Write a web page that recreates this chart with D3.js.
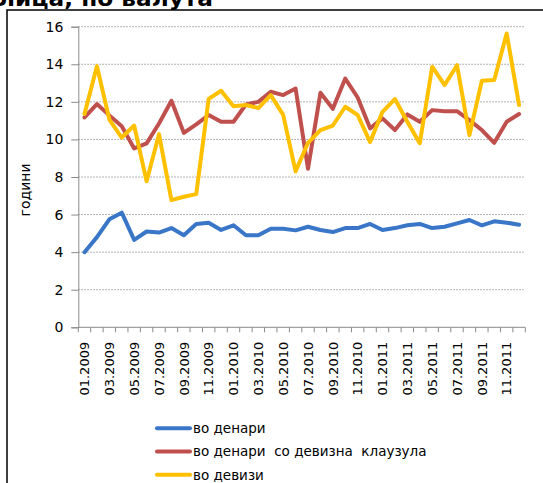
<!DOCTYPE html>
<html>
<head>
<meta charset="utf-8">
<style>
body { margin: 0; background: #fff; }
text { font-family: "DejaVu Sans", sans-serif; fill: #000; }
</style>
</head>
<body>
<div id="chart"></div>
<script src="https://d3js.org/d3.v7.min.js"></script>
<script>
// months 01.2009 .. 12.2011
var months = [];
for (var yr = 2009; yr <= 2011; yr++) {
    for (var m = 1; m <= 12; m++) months.push((m < 10 ? "0" : "") + m + "." + yr);
}

var seriesNames = ["во денари", "во денари  со девизна  клаузула", "во девизи"];
var seriesColors = ["#3a76c8", "#c0504d", "#ffc000"];

var denari = [4.0, 4.8, 5.75, 6.1, 4.65, 5.1, 5.04, 5.28, 4.9, 5.5, 5.57, 5.18,
              5.43, 4.9, 4.9, 5.25, 5.25, 5.16, 5.35, 5.18, 5.07, 5.28, 5.28, 5.5,
              5.18, 5.28, 5.43, 5.5, 5.28, 5.35, 5.53, 5.71, 5.43, 5.64, 5.57, 5.46];
var klauzula = [11.17, 11.88, 11.28, 10.7, 9.52, 9.79, 10.85, 12.06, 10.35, 10.8, 11.3, 10.94,
                10.94, 11.86, 12.0, 12.54, 12.36, 12.71, 8.44, 12.48, 11.63, 13.24, 12.23, 10.59,
                11.12, 10.5, 11.33, 10.94, 11.56, 11.5, 11.5, 11.03, 10.5, 9.82, 10.94, 11.35];
var devizi = [11.35, 13.9, 11.06, 10.1, 10.74, 7.77, 10.28, 6.77, 6.95, 7.09, 12.16, 12.59,
              11.77, 11.83, 11.67, 12.36, 11.31, 8.3, 9.82, 10.5, 10.74, 11.74, 11.3, 9.86,
              11.47, 12.15, 10.94, 9.79, 13.87, 12.89, 13.95, 10.23, 13.12, 13.16, 15.64, 11.83];

var yTicks = [0, 2, 4, 6, 8, 10, 12, 14, 16];

var W = 543, H = 483;
var svg = d3.select("#chart").append("svg").attr("width", W).attr("height", H);

// title, cut off at the top like in the source picture
svg.append("text")
    .attr("x", -2).attr("y", 6)
    .attr("textLength", 215).attr("lengthAdjust", "spacingAndGlyphs")
    .style("font-size", "21px").style("font-weight", "bold")
    .text("лица, по валута");

// outer frame
svg.append("rect")
    .attr("x", 7).attr("y", 10).attr("width", 600).attr("height", 600)
    .attr("fill", "none").attr("stroke", "#000").attr("stroke-width", 1.5);

var x = d3.scaleBand().domain(months).range([78.3, 525.3]);
var y = d3.scaleLinear().domain([0, 16]).range([327.3, 26.7]);

// gridlines
svg.append("g").selectAll("line")
    .data(yTicks.filter(function (d) { return d > 0; }))
    .join("line")
    .attr("x1", 78.3).attr("x2", 525.3)
    .attr("y1", function (d) { return y(d); }).attr("y2", function (d) { return y(d); })
    .attr("stroke", "#9a9a9a").attr("stroke-width", 1).attr("stroke-dasharray", "1.5,1.5");

// y axis
var yAxis = svg.append("g").attr("transform", "translate(78.3,0)")
    .call(d3.axisLeft(y).tickValues(yTicks).tickSize(7).tickPadding(8));
yAxis.selectAll("text").style("font-size", "14px").style("font-family", "DejaVu Sans");
yAxis.selectAll("line, path").attr("stroke", "#8a8a8a");

// x axis
var xAxis = svg.append("g").attr("transform", "translate(0,327.3)");
xAxis.append("line").attr("x1", 78.3).attr("x2", 525.3).attr("y1", 0).attr("y2", 0)
    .attr("stroke", "#8a8a8a");
xAxis.selectAll("line.tk").data(months.concat(["end"])).join("line").attr("class", "tk")
    .attr("x1", function (d, i) { return 78.3 + i * x.step(); })
    .attr("x2", function (d, i) { return 78.3 + i * x.step(); })
    .attr("y1", 0).attr("y2", 5).attr("stroke", "#8a8a8a");
xAxis.selectAll("text").data(months.filter(function (d, i) { return i % 2 === 0; })).join("text")
    .attr("transform", function (d) {
        return "translate(" + (x(d) + x.bandwidth() / 2) + ",14.5) rotate(-90)";
    })
    .attr("text-anchor", "end").attr("dy", "0.36em")
    .style("font-size", "13px")
    .text(function (d) { return d; });

// y label
svg.append("text")
    .attr("transform", "translate(25,190) rotate(-90)")
    .attr("text-anchor", "middle").attr("dy", "0.36em")
    .style("font-size", "14px")
    .text("години");

// lines
var line = d3.line()
    .x(function (d, i) { return x(months[i]) + x.bandwidth() / 2; })
    .y(function (d) { return y(d); });

[denari, klauzula, devizi].forEach(function (s, k) {
    svg.append("path").datum(s)
        .attr("d", line)
        .attr("fill", "none")
        .attr("stroke", seriesColors[k])
        .attr("stroke-width", 4)
        .attr("stroke-linejoin", "round")
        .attr("stroke-linecap", "round");
});

// legend
var legend = svg.append("g").selectAll("g").data(seriesNames).join("g")
    .attr("transform", function (d, i) { return "translate(0," + (428.3 + i * 23.2) + ")"; });
legend.append("line")
    .attr("x1", 157).attr("x2", 190).attr("y1", 0).attr("y2", 0)
    .attr("stroke", function (d, i) { return seriesColors[i]; })
    .attr("stroke-width", 4).attr("stroke-linecap", "round");
legend.append("text")
    .attr("x", 193).attr("dy", "0.36em")
    .attr("xml:space", "preserve").style("white-space", "pre")
    .style("font-size", "13.5px")
    .text(function (d) { return d; });
</script>
</body>
</html>
